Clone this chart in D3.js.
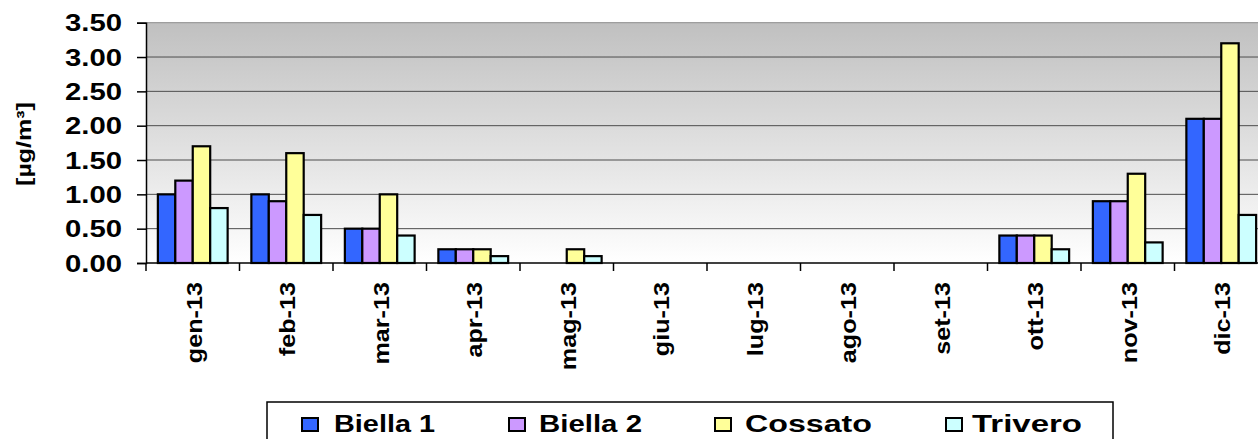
<!DOCTYPE html>
<html>
<head>
<meta charset="utf-8">
<script src="https://cdn.jsdelivr.net/npm/d3@7"></script>
<style>
  html, body { margin: 0; padding: 0; background: #fff; }
  svg { display: block; font-family: "Liberation Sans", Arial, sans-serif; font-weight: bold; }
</style>
</head>
<body>
<div id="chart"></div>
<script>
const months = ["gen-13","feb-13","mar-13","apr-13","mag-13","giu-13","lug-13","ago-13","set-13","ott-13","nov-13","dic-13"];
const seriesNames = ["Biella 1","Biella 2","Cossato","Trivero"];
const biella1 = [1.0, 1.0, 0.5, 0.2, null, null, null, null, null, 0.4, 0.9, 2.1];
const biella2 = [1.2, 0.9, 0.5, 0.2, null, null, null, null, null, 0.4, 0.9, 2.1];
const cossato = [1.7, 1.6, 1.0, 0.2, 0.2, null, null, null, null, 0.4, 1.3, 3.2];
const trivero = [0.8, 0.7, 0.4, 0.1, 0.1, null, null, null, null, 0.2, 0.3, 0.7];
const yTicks = [0, 0.5, 1.0, 1.5, 2.0, 2.5, 3.0, 3.5];
const colors = ["#3366ff", "#cc99ff", "#ffff99", "#ccffff"];
const yTitle = "[µg/m³]";

(function () {
const W = 1258, H = 439;
const pLeft = 146, pTop = 22.7, pBottom = 263;
const bandW = 93.5;
const values = [biella1, biella2, cossato, trivero];

const svg = d3.select("#chart").append("svg").attr("width", W).attr("height", H);

const x = d3.scaleBand().domain(months).range([pLeft, pLeft + bandW * months.length]).padding(0);
const x1 = d3.scaleBand().domain(seriesNames).range([0, x.bandwidth()]).paddingInner(0).paddingOuter(0.68);
const y = d3.scaleLinear().domain([0, 3.5]).range([pBottom, pTop]);

const defs = svg.append("defs");
const grad = defs.append("linearGradient").attr("id", "bg").attr("x1", 0).attr("y1", 0).attr("x2", 0).attr("y2", 1);
grad.append("stop").attr("offset", "0%").attr("stop-color", "#c0c0c0");
grad.append("stop").attr("offset", "100%").attr("stop-color", "#ffffff");

svg.append("rect").attr("x", pLeft).attr("y", y(3.5)).attr("width", W - pLeft).attr("height", y(0) - y(3.5)).attr("fill", "url(#bg)");

// gridlines
svg.append("g").selectAll("line").data(yTicks.filter(d => d > 0)).join("line")
  .attr("x1", pLeft).attr("x2", W)
  .attr("y1", d => y(d)).attr("y2", d => y(d))
  .attr("stroke", d => d === 3.5 ? "#8c8c8c" : "#4d4d4d").attr("stroke-width", 1);

// bars
const g = svg.append("g");
months.forEach((m, i) => {
  seriesNames.forEach((s, j) => {
    const v = values[j][i];
    if (v === null || v === undefined) return;
    g.append("rect")
      .attr("x", x(m) + x1(s))
      .attr("y", y(v))
      .attr("width", x1.bandwidth())
      .attr("height", y(0) - y(v))
      .attr("fill", colors[j])
      .attr("stroke", "#000")
      .attr("stroke-width", 2.2);
  });
});

// y axis
const yAxis = svg.append("g").attr("transform", `translate(${pLeft},0)`)
  .call(d3.axisLeft(y).tickValues(yTicks).tickFormat(d3.format(".2f")).tickSize(9).tickPadding(15));
yAxis.select(".domain").attr("stroke", "#000").attr("stroke-width", 1.5);
yAxis.selectAll(".tick line").attr("stroke", "#000").attr("stroke-width", 1.5);
yAxis.selectAll(".tick text")
  .attr("font-size", 23).attr("font-weight", "bold").attr("fill", "#000")
  .attr("font-family", "Liberation Sans, Arial, sans-serif")
  .attr("textLength", 57).attr("lengthAdjust", "spacingAndGlyphs")
  .attr("x", -24 - 57).attr("text-anchor", "start").attr("dy", "0.36em");

// x axis
const xAxis = svg.append("g").attr("transform", `translate(0,${pBottom})`);
xAxis.append("line").attr("x1", pLeft).attr("x2", W).attr("y1", 0).attr("y2", 0).attr("stroke", "#000").attr("stroke-width", 1.5);
xAxis.selectAll("line.tk").data(d3.range(months.length + 1)).join("line").attr("class", "tk")
  .attr("x1", i => i < months.length ? x(months[i]) : x(months[months.length - 1]) + x.bandwidth())
  .attr("x2", i => i < months.length ? x(months[i]) : x(months[months.length - 1]) + x.bandwidth())
  .attr("y1", 0).attr("y2", 8).attr("stroke", "#000").attr("stroke-width", 1.5);
xAxis.selectAll("text").data(months).join("text")
  .attr("transform", d => `translate(${x(d) + x.bandwidth() / 2 + 1},19) rotate(-90) scale(1.12,1)`)
  .attr("text-anchor", "end").attr("dy", "0.36em")
  .attr("font-size", 22.5).attr("fill", "#000")
  .text(d => d);

// y title
svg.append("text")
  .attr("transform", `translate(24,144) rotate(-90) scale(1.25,1)`)
  .attr("text-anchor", "middle").attr("dy", "0.36em")
  .attr("font-size", 20).attr("fill", "#000")
  .text(yTitle);

// legend
const legendSwatchX = [302, 509, 715, 946];
const legendTextX = [334, 539, 745, 972];
const legendTextLen = [101, 103, 127, 110];
const lg = svg.append("g");
lg.append("rect").attr("x", 267).attr("y", 402).attr("width", 1113 - 267).attr("height", 60)
  .attr("fill", "#fff").attr("stroke", "#000").attr("stroke-width", 1.5);
seriesNames.forEach((s, j) => {
  lg.append("rect").attr("x", legendSwatchX[j]).attr("y", 418).attr("width", 16).attr("height", 13)
    .attr("fill", colors[j]).attr("stroke", "#000").attr("stroke-width", 2);
  lg.append("text").attr("x", legendTextX[j]).attr("y", 431.5)
    .attr("font-size", 23).attr("fill", "#000")
    .attr("textLength", legendTextLen[j]).attr("lengthAdjust", "spacingAndGlyphs")
    .text(s);
});
})();
</script>
</body>
</html>
